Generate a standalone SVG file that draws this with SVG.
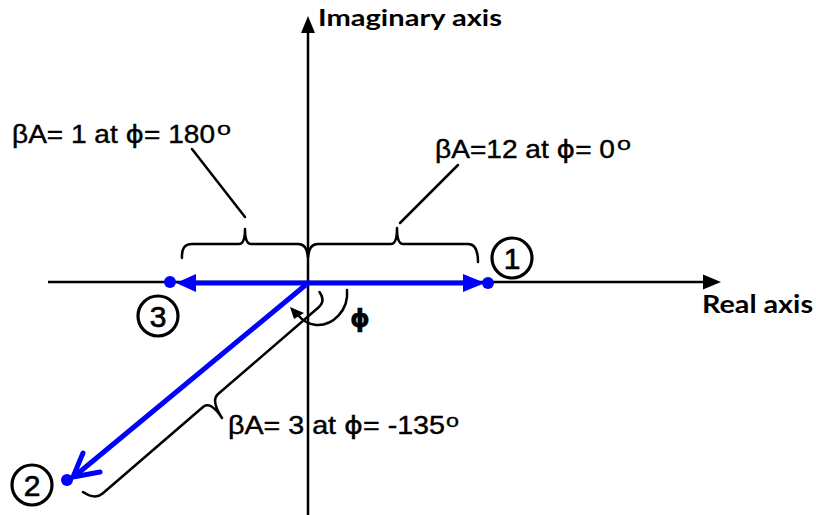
<svg xmlns="http://www.w3.org/2000/svg" width="816" height="515" viewBox="0 0 816 515">
<defs>
<style>
.ax{stroke:#000;stroke-width:2.5;fill:none}
.br{stroke:#000;stroke-width:2.5;fill:none;stroke-linecap:round;stroke-linejoin:round}
.bl{stroke:#0000ff;stroke-width:5;fill:none;stroke-linecap:round}
.bf{fill:#0000ff}
.lab{font-family:"Liberation Sans",Arial,sans-serif;font-size:25px;fill:#000;stroke:#000;stroke-width:0.4}
.phi{font-family:"DejaVu Sans",sans-serif}
.sup{font-family:"Liberation Sans",Arial,sans-serif;font-size:18px;fill:#000;stroke:#000;stroke-width:0.3}
.axl{font-family:Lato,"Open Sans",sans-serif;font-weight:bold;fill:#000}
.num{font-family:"Liberation Sans",Arial,sans-serif;font-size:30px;fill:#000;stroke:#000;stroke-width:0.7;text-anchor:middle}
.cir{fill:none;stroke:#000;stroke-width:3.2}
</style>
</defs>
<rect width="816" height="515" fill="#fff"/>
<g id="connectors">
<line class="ax" x1="308" y1="515" x2="308" y2="30"/>
<polygon points="308,16 301,33 315,33" fill="#000"/>
<line class="ax" x1="48" y1="282" x2="705" y2="282"/>
<polygon points="721,282 703,274.5 703,289.5" fill="#000"/>
<line class="bl" x1="308" y1="283" x2="466" y2="283"/>
<polygon class="bf" points="485,283 463,274 463,292"/>
<circle class="bf" cx="488" cy="283" r="6"/>
<line class="bl" x1="308" y1="283" x2="192" y2="283"/>
<polygon class="bf" points="176,283 196,274 196,292"/>
<circle class="bf" cx="170" cy="282" r="6"/>
<line class="bl" x1="308" y1="283" x2="76" y2="475"/>
<polyline class="bl" points="83,453 73,477 100,472" stroke-linejoin="round"/>
<circle class="bf" cx="67" cy="480" r="6"/>
<path class="br" d="M182,258 Q181,244 192,244 L239,244 Q245,244 245,229 Q245,244 251,244 L298,244 Q307,244 308,257"/>
<path class="br" d="M308,257 Q309,244 318,244 L391,244 Q397,244 397,228 Q397,244 403,244 L468,244 Q478,244 478,262"/>
<path class="br" d="M319.5,292 Q326,301 318.4,307.5 L218.1,394 Q210.5,400.5 222,418 M222,418 Q210.5,400.5 203,407 L102.6,493.5 Q95,500 83,492"/>
<line class="br" x1="245" y1="217" x2="192" y2="149"/>
<line class="br" x1="400" y1="223" x2="458" y2="165"/>
<path class="br" d="M347,290 C349,310 333,326 316,325 C308,324 302,320 298,315"/>
<polygon points="290,307 294,319 304,313" fill="#000"/>
</g>
<g id="label-top">
<text class="axl" x="318" y="26" font-size="23" textLength="184" lengthAdjust="spacingAndGlyphs">Imaginary axis</text>
</g>
<g id="label-real">
<text class="axl" x="702" y="313" font-size="25" textLength="111" lengthAdjust="spacingAndGlyphs">Real axis</text>
</g>
<g id="label-180">
<text class="lab" x="12" y="143" textLength="203" lengthAdjust="spacingAndGlyphs">βA= 1 at <tspan class="phi">ϕ</tspan>= 180</text>
<text class="sup" x="217" y="135" textLength="14" lengthAdjust="spacingAndGlyphs">o</text>
</g>
<g id="label-0">
<text class="lab" x="435" y="158" textLength="180" lengthAdjust="spacingAndGlyphs">βA=12 at <tspan class="phi">ϕ</tspan>= 0</text>
<text class="sup" x="617" y="150" textLength="14" lengthAdjust="spacingAndGlyphs">o</text>
</g>
<g id="label-135">
<text class="lab" x="228" y="434" textLength="217" lengthAdjust="spacingAndGlyphs">βA= 3 at <tspan class="phi">ϕ</tspan>= -135</text>
<text class="sup" x="446" y="427" textLength="13" lengthAdjust="spacingAndGlyphs">o</text>
</g>
<g id="label-phi">
<text class="lab phi" x="350" y="327" font-size="29" font-weight="bold">ϕ</text>
</g>
<g id="node-1">
<circle class="cir" cx="512" cy="258" r="20"/>
<text class="num" x="512" y="269">1</text>
</g>
<g id="node-3">
<circle class="cir" cx="158" cy="316" r="20"/>
<text class="num" x="158" y="327">3</text>
</g>
<g id="node-2">
<circle class="cir" cx="32" cy="485" r="20"/>
<text class="num" x="32" y="496">2</text>
</g>
</svg>
